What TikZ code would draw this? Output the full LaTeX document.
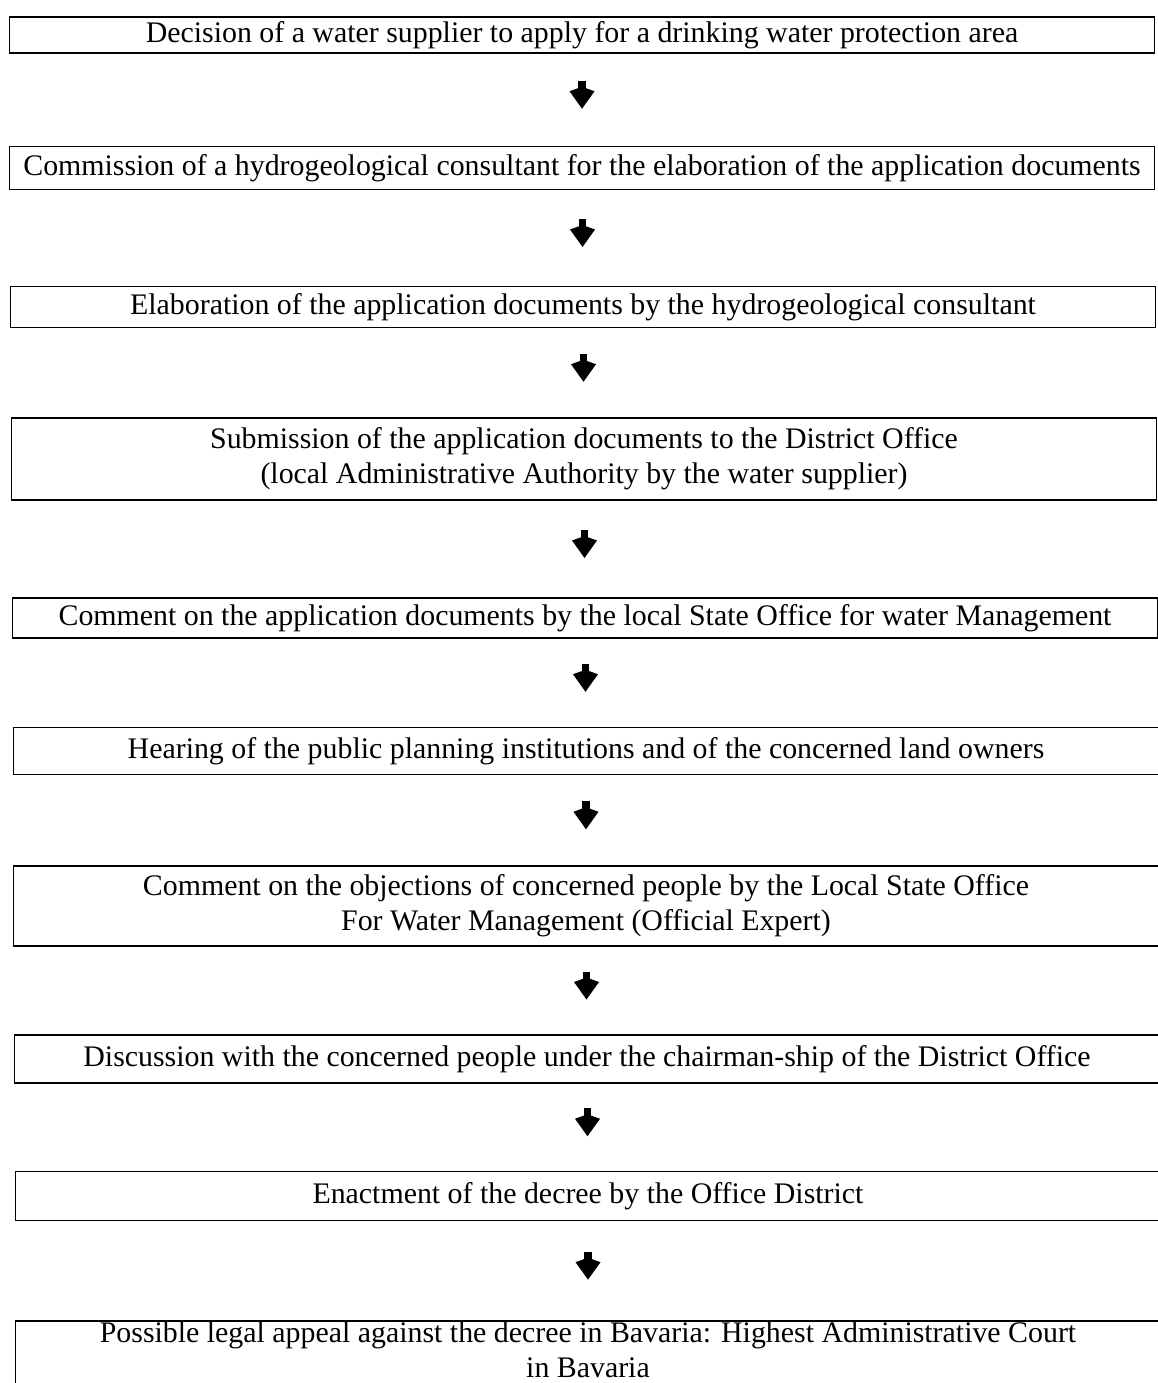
\documentclass[tikz,border=0pt]{standalone}
\usepackage{fontspec}
\setmainfont{Liberation Serif}
\usetikzlibrary{arrows.meta,calc,positioning}

\begin{document}
\begin{tikzpicture}[
  x=0.02cm, y=-0.02cm,
  every node/.style={font=\fontsize{17}{20}\selectfont},
  stepbox/.style={draw, line width=1pt, minimum width=22.9cm, align=center, inner sep=0pt},
  stepdown/.style={line width=0.15cm, -{Kite[length=0.44cm, width=0.5cm, inset=0.09cm]}}
  ]
	\useasboundingbox (0,0) rectangle (1158,1383);
	\clip (0,0) rectangle (1158,1383);

	\node[stepbox, minimum height=0.72cm] (s1) at (582,35) {Decision of a water supplier to apply for a drinking water protection area};
	\node[stepbox, minimum height=0.86cm] (s2) at (582,168) {Commission of a hydrogeological consultant for the elaboration of the application documents};
	\node[stepbox, minimum height=0.82cm] (s3) at (583,307) {Elaboration of the application documents by the hydrogeological consultant};
	\node[stepbox, minimum height=1.64cm] (s4) at (584,459) {Submission of the application documents to the District Office\\(local Administrative Authority by the water supplier)};
	\node[stepbox, minimum height=0.8cm] (s5) at (585,618) {Comment on the application documents by the local State Office for water Management};
	\node[stepbox, minimum height=0.94cm] (s6) at (586,751) {Hearing of the public planning institutions and of the concerned land owners};
	\node[stepbox, minimum height=1.6cm] (s7) at (586,906) {Comment on the objections of concerned people by the Local State Office\\For Water Management (Official Expert)};
	\node[stepbox, minimum height=0.96cm] (s8) at (587,1059) {Discussion with the concerned people under the chairman-ship of the District Office};
	\node[stepbox, minimum height=0.98cm] (s9) at (588,1196) {Enactment of the decree by the Office District};
	\node[stepbox, anchor=north, inner ysep=0.02cm, text depth=0.3cm] (s10) at (588,1320) {Possible legal appeal against the decree in Bavaria: Highest Administrative Court\\in Bavaria};

	\foreach \a/\b in {s1/s2,s2/s3,s3/s4,s4/s5,s5/s6,s6/s7,s7/s8,s8/s9,s9/s10}
		\draw[stepdown] ($(\a.south)!0.5!(\b.north)+(0,-19)$) -- ++(0,28);

\end{tikzpicture}
\end{document}
